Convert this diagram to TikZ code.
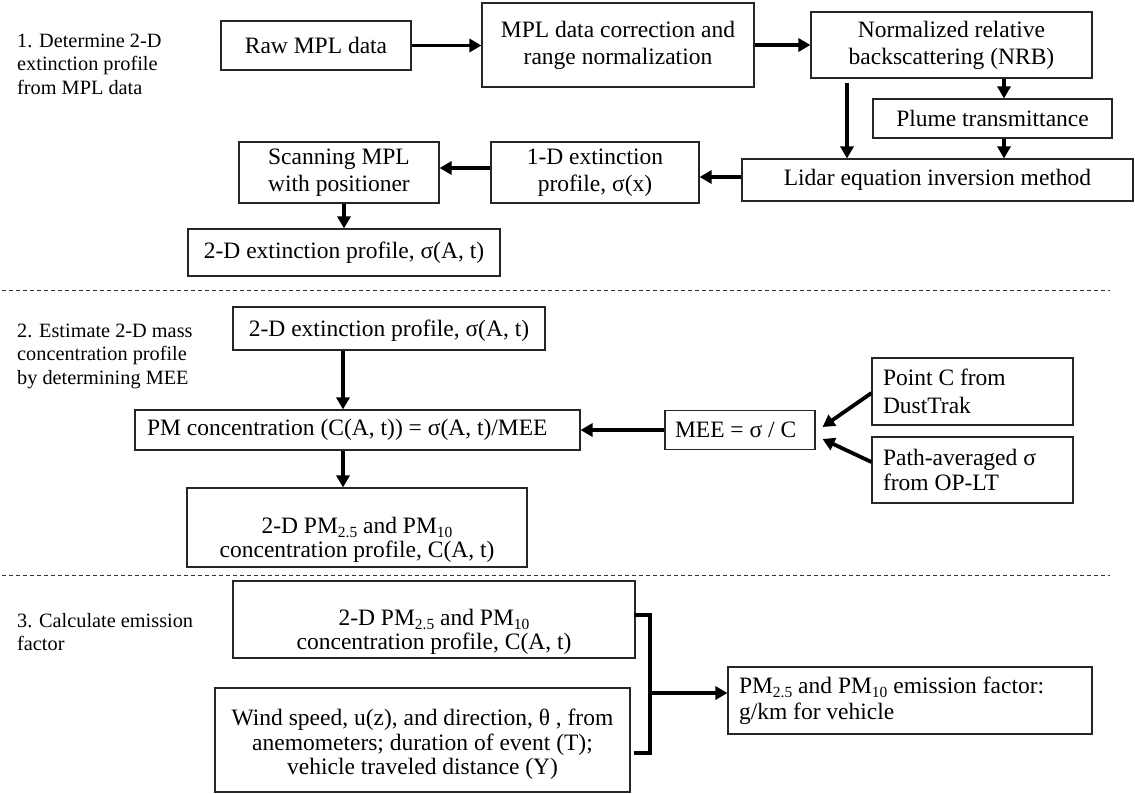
\documentclass[tikz,border=0pt]{standalone}
\usepackage{fontspec}
\setmainfont{Liberation Serif}
\usetikzlibrary{arrows.meta,calc}
\newcommand\bfs[1]{\fontsize{23.5}{#1}\selectfont}
\newcommand\lfs{\fontsize{20.3}{23.5}\selectfont}
\newcommand\sbs[1]{\raisebox{-4pt}{\fontsize{15.5}{15.5}\selectfont #1}}
\tikzset{
  box/.style={draw=black!85, line width=1.1pt, inner sep=0pt, align=flush center, font=\bfs{26}},
  lbox/.style={draw=black!85, line width=1.1pt, inner ysep=0pt, align=flush left},
  lbl/.style={align=flush left, font=\lfs, inner sep=0pt, anchor=west},
  arr/.style={line width=3.8pt, -{Triangle[length=12pt,width=13pt]}},
  brk/.style={line width=3.8pt, line join=miter, line cap=butt},
  sep/.style={line width=0.8pt, dash pattern=on 4pt off 3pt, draw=black!80},
}
\begin{document}
\begin{tikzpicture}[x=1pt,y=-1pt]
\useasboundingbox (0,0) rectangle (1135,793);
% section labels
\node[lbl] (l1) at (17,64) {1. Determine 2-D\\extinction profile\\from MPL data};
\node[lbl] (l2) at (17,356) {2. Estimate 2-D mass\\concentration profile\\by determining MEE};
\node[lbl] (l3) at (17,632) {3. Calculate emission\\factor};
% separators
\draw[sep] (2,290) -- (1110,290);
\draw[sep] (2,575) -- (1110,575);
% section 1
\node[box, minimum width=190, minimum height=49] (raw) at (316,45.5) {Raw MPL data};
\node[box, minimum width=272, minimum height=84, font=\bfs{27}] (mpl) at (618,45) {MPL data correction and\\range normalization};
\node[box, minimum width=281, minimum height=66, font=\bfs{27}] (nrb) at (951.5,45) {Normalized relative\\backscattering (NRB)};
\node[box, minimum width=239, minimum height=39] (plume) at (992.5,118.5) {Plume transmittance};
\node[box, minimum width=391, minimum height=42] (lidar) at (937.5,180) {Lidar equation inversion method};
\node[box, minimum width=208, minimum height=61, font=\bfs{27}] (onedee) at (595,172.5) {1-D extinction\\profile, σ(x)};
\node[box, minimum width=200, minimum height=61, font=\bfs{27}] (scan) at (339,172.5) {Scanning MPL\\with positioner};
\node[box, minimum width=312, minimum height=47] (ext1) at (344,252.5) {2-D extinction profile, σ(A, t)};
% section 2
\node[box, minimum width=312, minimum height=43] (ext2) at (389,328.5) {\rule{0pt}{20pt}2-D extinction profile, σ(A, t)};
\node[lbox, font=\bfs{26}, text width=421, inner xsep=12, minimum height=40] (pmc) at (357.5,430) {PM concentration (C(A, t)) = σ(A, t)/MEE};
\node[lbox, font=\bfs{26}, text width=130, inner xsep=10, minimum height=39] (mee) at (740,430) {MEE = σ / C};
\node[lbox, font=\bfs{28}, text width=179, inner xsep=11, minimum height=67] (pointc) at (972.5,391.5) {Point C from\\DustTrak};
\node[lbox, font=\bfs{25}, text width=179, inner xsep=11, minimum height=66] (path) at (972.5,470) {Path-averaged σ\\from OP-LT};
\node[box, minimum width=340, minimum height=79, font=\bfs{24.5}] (pm2) at (357,527.5) {\rule{0pt}{41pt}2-D PM\sbs{2.5} and PM\sbs{10}\\concentration profile, C(A, t)};
% section 3
\node[box, minimum width=402, minimum height=77, font=\bfs{24.5}] (pm3) at (434,619.5) {\rule{0pt}{41pt}2-D PM\sbs{2.5} and PM\sbs{10}\\concentration profile, C(A, t)};
\node[box, minimum width=415, minimum height=104, font=\bfs{24.5}] (wind) at (422.5,740) {\rule{0pt}{25pt}Wind speed, u(z), and direction, θ , from\\anemometers; duration of event (T);\\vehicle traveled distance (Y)};
\node[lbox, font=\bfs{26}, text width=342, inner xsep=11, minimum height=67] (ef) at (910,700.5) {PM\sbs{2.5} and PM\sbs{10} emission factor:\\g/km for vehicle};
% helper coordinates
\coordinate (xa) at (1004,0);
\coordinate (xb) at (847,0);
\coordinate (ya) at (0,177);
\coordinate (yb) at (0,168);
\coordinate (xc) at (344,0);
\coordinate (xd) at (343,0);
\coordinate (bt) at (650,615);
\coordinate (bb) at (650,753);
\coordinate (bm) at (650,693);
% connectors section 1
\draw[arr] (raw.east) -- (raw.east -| mpl.west);
\draw[arr] (mpl.east) -- (mpl.east -| nrb.west);
\draw[arr] (nrb.south -| xa) -- (plume.north -| xa);
\draw[arr] (plume.south -| xa) -- (lidar.north -| xa);
\draw[arr] ([yshift=-4pt]nrb.south -| xb) -- (lidar.north -| xb);
\draw[arr] (lidar.west |- ya) -- (onedee.east |- ya);
\draw[arr] (onedee.west |- yb) -- (scan.east |- yb);
\draw[arr] (scan.south -| xc) -- (ext1.north -| xc);
% connectors section 2
\draw[arr] (ext2.south -| xd) -- (pmc.north -| xd);
\draw[arr] (pmc.south -| xd) -- (pm2.north -| xd);
\draw[arr] (mee.west) -- (pmc.east);
\draw[arr] ([yshift=-1.5pt]pointc.west) -- ($(mee.east)+(7,-3)$);
\draw[arr] ([yshift=8pt]path.west) -- ($(mee.east)+(7,9)$);
% connectors section 3
\draw[brk] ([xshift=-2pt]pm3.east |- bt) -- (bt) -- (bb) -- ([xshift=3pt]wind.east |- bb);
\draw[arr] (bm) -- (bm -| ef.west);
\end{tikzpicture}
\end{document}
